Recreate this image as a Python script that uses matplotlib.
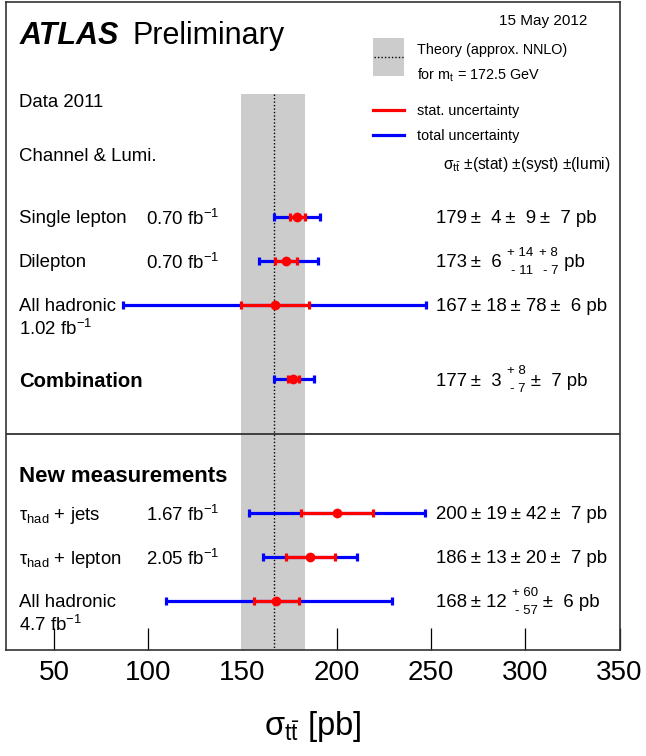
import matplotlib
matplotlib.use("Agg")
import matplotlib.pyplot as plt
from matplotlib.patches import Rectangle
from matplotlib.transforms import IdentityTransform

plt.rcParams['font.family'] = ['Liberation Sans', 'DejaVu Sans']
plt.rcParams['mathtext.fontset'] = 'custom'
plt.rcParams['mathtext.rm'] = 'Liberation Sans'
plt.rcParams['mathtext.it'] = 'Liberation Sans:italic'
plt.rcParams['mathtext.bf'] = 'Liberation Sans:bold'
plt.rcParams['mathtext.default'] = 'regular'

# measurements (pb)
channels = ["Single lepton", "Dilepton", "All hadronic", "Combination",
            r"$\tau_{had}$ + jets", r"$\tau_{had}$ + lepton", "All hadronic"]
lumis = ["0.70", "0.70", "1.02", "", "1.67", "2.05", "4.7"]
xsec = [179, 173, 167, 177, 200, 186, 168]
stat = [4, 6, 18, 3, 19, 13, 12]
syst_up = [9, 14, 78, 8, 42, 20, 60]
syst_dn = [9, 11, 78, 7, 42, 20, 57]
lumi_up = [7, 8, 6, 7, 7, 7, 6]
lumi_dn = [7, 7, 6, 7, 7, 7, 6]
tot_up = [12.1, 17.2, 80.3, 11.0, 46.6, 24.9, 61.5]
tot_dn = [12.1, 14.4, 80.3, 10.3, 46.6, 24.9, 58.6]

# theory (approx. NNLO, mt = 172.5 GeV)
theory = 166.6
theory_lo = 149.0
theory_hi = 183.3

row_y = [0, 1, 2, 3.7, 6.75, 7.75, 8.75]
lumi_wrap = [False, False, True, False, False, False, True]
bold_row = [False, False, False, True, False, False, False]

RED = '#ff0000'
BLUE = '#0000ff'
THIN = "\u2009"

fig = plt.figure(figsize=(6.46, 7.56), dpi=100)
ax = fig.add_axes([6 / 646, 1 - 650 / 756, 613.5 / 646, 648 / 756])
ax.set_xlim(24.5, 350)
ax.set_ylim(9.875, -4.9)
ax.set_axisbelow(True)

ay = ax.get_yaxis_transform()

# theory band
ax.fill_betweenx([-2.8, 9.875], theory_lo, theory_hi, color='#cccccc', lw=0, zorder=1)
ax.plot([theory, theory], [-2.8, 9.875], color='black', ls=(0, (1, 1.5)), lw=1, zorder=2)

# error bars
ax.errorbar(xsec, row_y, xerr=[tot_dn, tot_up], fmt='none', ecolor=BLUE,
            elinewidth=2.3, capsize=3, capthick=2.3, zorder=3)
ax.errorbar(xsec, row_y, xerr=[stat, stat], fmt='o', color=RED, ecolor=RED, ms=6,
            elinewidth=2.3, capsize=3, capthick=2.3, zorder=4)

# separator
ax.axhline(4.95, color='#333333', lw=1.3, zorder=5)

FS = 13.4
# labels
for i, name in enumerate(channels):
    ax.text(0.021, row_y[i], name, transform=ay, va='center_baseline',
            fontsize=14.6 if bold_row[i] else FS,
            fontweight='bold' if bold_row[i] else 'normal')
    if lumis[i]:
        lab = lumis[i] + r" fb$^{-1}$"
        if lumi_wrap[i]:
            ax.text(0.021, row_y[i] + 0.5, lab, transform=ay, fontsize=FS, va='center_baseline')
        else:
            ax.text(0.229, row_y[i], lab, transform=ay, fontsize=FS, va='center_baseline')

ax.text(0.023, -4.2, "ATLAS", transform=ay, fontsize=22, fontweight='bold',
        style='italic', va='center_baseline')
ax.text(0.207, -4.2, "Preliminary", transform=ay, fontsize=22, va='center_baseline')
ax.text(0.803, -4.5, "15 May 2012", transform=ay, fontsize=11, va='center_baseline')
ax.text(0.021, -2.65, "Data 2011", transform=ay, fontsize=FS, va='center_baseline')
ax.text(0.021, -1.42, "Channel & Lumi.", transform=ay, fontsize=FS, va='center_baseline')
ax.text(0.021, 5.86, "New measurements", transform=ay, fontsize=16, fontweight='bold',
        va='center_baseline')

# legend
ax.add_patch(Rectangle((0.598, -4.08), 0.051, 0.865, transform=ay, color='#cccccc', lw=0))
ax.plot([0.6, 0.647], [-3.65, -3.65], transform=ay, color='black', ls=(0, (1, 1.5)), lw=1)
ax.plot([0.598, 0.649], [-2.44, -2.44], transform=ay, color=RED, lw=2.3)
ax.plot([0.598, 0.649], [-1.87, -1.87], transform=ay, color=BLUE, lw=2.3)
ax.text(0.67, -3.85, "Theory (approx. NNLO)", transform=ay, fontsize=10.4, va='center_baseline')
ax.text(0.67, -3.28, r"for m$_{t}$ = 172.5 GeV", transform=ay, fontsize=10.4, va='center_baseline')
ax.text(0.67, -2.44, "stat. uncertainty", transform=ay, fontsize=10.4, va='center_baseline')
ax.text(0.67, -1.87, "total uncertainty", transform=ay, fontsize=10.4, va='center_baseline')
ax.text(0.712, -1.25, r"$\sigma_{t\bar{t}}$ ±(stat) ±(syst) ±(lumi)", transform=ay,
        fontsize=11.2, va='center_baseline')

# value strings, chained in pixel space
renderer = fig.canvas.get_renderer()


def num(v):
    return ("  " + str(v)) if v < 10 else (" " + str(v))


def put_values(i):
    x = ax.transAxes.transform((0.701, 0))[0]
    yd = ax.transData.transform((0, row_y[i]))[1]
    parts = []
    cur = str(xsec[i]) + THIN + "±" + num(stat[i])
    for up, dn in ((syst_up[i], syst_dn[i]), (lumi_up[i], lumi_dn[i])):
        if up == dn:
            cur += THIN + "±" + num(up)
        else:
            parts.append(cur + " ")
            parts.append((up, dn))
            cur = ""
    parts.append(cur + " pb")
    for p in parts:
        if isinstance(p, str):
            t = ax.text(x, yd, p, transform=IdentityTransform(), fontsize=FS,
                        va='center_baseline')
            x = t.get_window_extent(renderer).x1
        else:
            up, dn = p
            t1 = ax.text(x, yd + 8, "+ " + str(up), transform=IdentityTransform(),
                         fontsize=9.5, va='center')
            t2 = ax.text(x, yd - 10, "- " + str(dn), transform=IdentityTransform(),
                         fontsize=9.5, va='center')
            w = max(t1.get_window_extent(renderer).width, t2.get_window_extent(renderer).width)
            for t in (t1, t2):
                t.set_ha('right')
                t.set_x(x + w)
            x = x + w + 1


for i in range(len(xsec)):
    put_values(i)

# axes styling
ax.set_yticks([])
ax.set_xticks([50, 100, 150, 200, 250, 300, 350])
ax.tick_params(axis='x', direction='in', length=16, width=0.9, pad=7, labelsize=20,
               colors='black')
for s in ax.spines.values():
    s.set_color('#333333')
    s.set_linewidth(1.2)
ax.set_xlabel(r"$\sigma_{t\bar{t}}$ [pb]", fontsize=23.5, labelpad=17)

fig.savefig("out.png", dpi=100)
